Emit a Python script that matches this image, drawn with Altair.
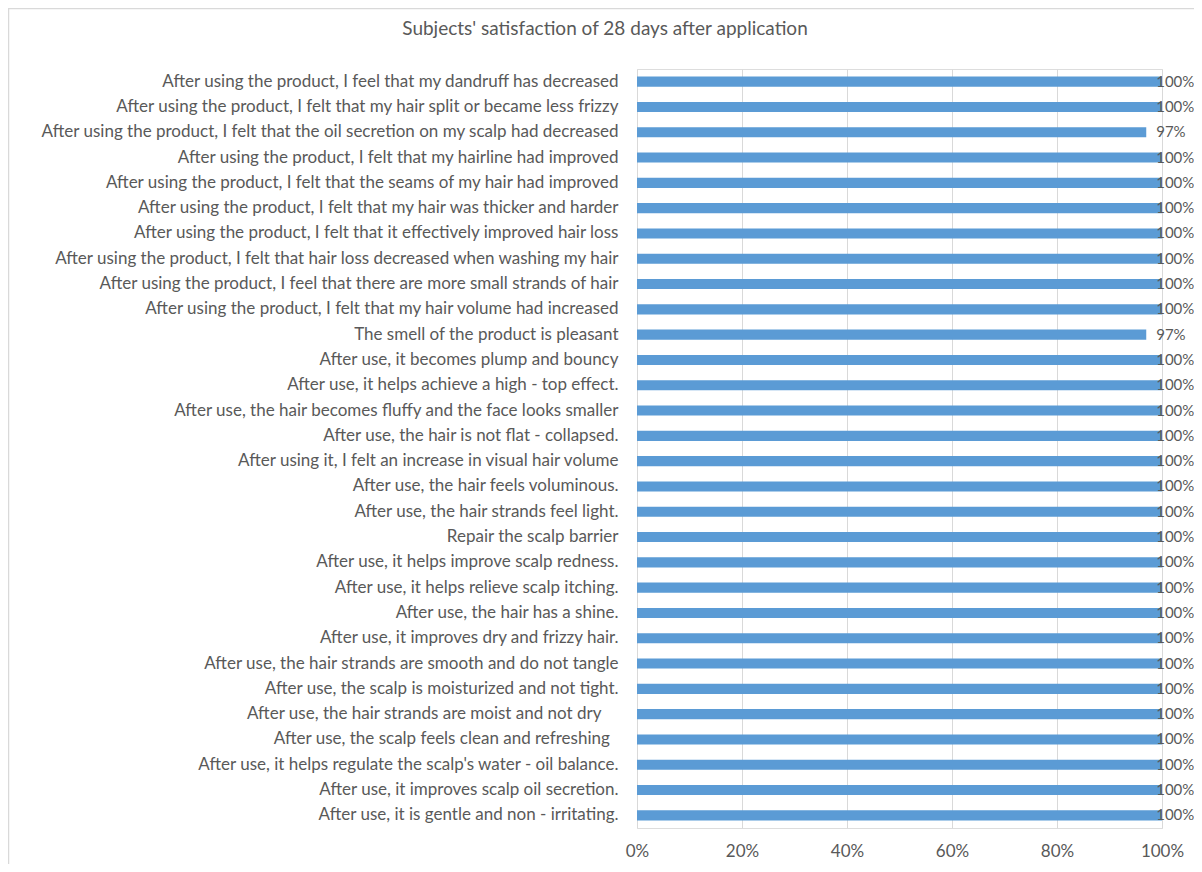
import altair as alt
import pandas as pd

title_text = "Subjects' satisfaction of 28 days after application"

categories = [
    "After using the product, I feel that my dandruff has decreased",
    "After using the product, I felt that my hair split or became less frizzy",
    "After using the product, I felt that the oil secretion on my scalp had decreased",
    "After using the product, I felt that my hairline had improved",
    "After using the product, I felt that the seams of my hair had improved",
    "After using the product, I felt that my hair was thicker and harder",
    "After using the product, I felt that it effectively improved hair loss",
    "After using the product, I felt that hair loss decreased when washing my hair",
    "After using the product, I feel that there are more small strands of hair",
    "After using the product, I felt that my hair volume had increased",
    "The smell of the product is pleasant",
    "After use, it becomes plump and bouncy",
    "After use, it helps achieve a high - top effect.",
    "After use, the hair becomes fluffy and the face looks smaller",
    "After use, the hair is not flat - collapsed.",
    "After using it, I felt an increase in visual hair volume",
    "After use, the hair feels voluminous.",
    "After use, the hair strands feel light.",
    "Repair the scalp barrier",
    "After use, it helps improve scalp redness.",
    "After use, it helps relieve scalp itching.",
    "After use, the hair has a shine.",
    "After use, it improves dry and frizzy hair.",
    "After use, the hair strands are smooth and do not tangle",
    "After use, the scalp is moisturized and not tight.",
    "After use, the hair strands are moist and not dry\u00a0\u00a0\u00a0\u00a0\u2060",
    "After use, the scalp feels clean and refreshing\u00a0\u00a0\u2060",
    "After use, it helps regulate the scalp's water - oil balance.",
    "After use, it improves scalp oil secretion.",
    "After use, it is gentle and non - irritating.",
]

values = [1.00, 1.00, 0.97, 1.00, 1.00, 1.00, 1.00, 1.00, 1.00, 1.00,
          0.97, 1.00, 1.00, 1.00, 1.00, 1.00, 1.00, 1.00, 1.00, 1.00,
          1.00, 1.00, 1.00, 1.00, 1.00, 1.00, 1.00, 1.00, 1.00, 1.00]

tick_values = [0, 0.2, 0.4, 0.6, 0.8, 1.0]

df = pd.DataFrame({"item": categories, "value": values})

W, H = 525, 759
FONT = "Lato"
GREY = "#595959"
SVG_W, SVG_H = 1186, 856

frame = alt.Chart(pd.DataFrame({"k": [0]})).mark_rect(
    fill=None, stroke="#D9D9D9", strokeWidth=1.5
).encode(
    x=alt.value(-628.5), x2=alt.value(W + 800),
    y=alt.value(-60.5), y2=alt.value(H + 800),
)

title = alt.Chart(pd.DataFrame({"t": [title_text]})).mark_text(
    align="center", baseline="middle", font=FONT, fontSize=19, color=GREY
).encode(
    text="t:N", x=alt.value(-32), y=alt.value(-40),
)

base = alt.Chart(df)

y_enc = alt.Y(
    "item:N", sort=categories,
    scale=alt.Scale(paddingInner=0.6, paddingOuter=0.3),
    axis=alt.Axis(title=None, labelLimit=0, labelPadding=19, labelFont=FONT,
                  labelFontSize=17, labelColor=GREY, ticks=False, domain=False),
)

bars = base.mark_bar(color="#5B9BD5").encode(
    y=y_enc,
    x=alt.X("value:Q", scale=alt.Scale(domain=[0, 1]),
            axis=alt.Axis(values=tick_values, format=".0%", grid=True,
                          gridColor="#D9D9D9", gridWidth=1, domain=False,
                          ticks=False, labelPadding=15, labelFont=FONT,
                          labelFontSize=17, labelColor=GREY, title=None,
                          labelFlush=False)),
)

labels = base.transform_calculate(
    lx="min(datum.value + 0.0215, 0.989)"
).mark_text(align="left", baseline="middle", font=FONT, fontSize=15,
            color=GREY).encode(
    y=alt.Y("item:N", sort=categories),
    x=alt.X("lx:Q"),
    text=alt.Text("value:Q", format=".0%"),
)

chart = alt.layer(frame, title, bars, labels).properties(
    width=W, height=H,
    autosize=alt.AutoSizeParams(type="none"),
    padding={"left": 629, "top": 61, "right": SVG_W - 629 - W,
             "bottom": SVG_H - 61 - H},
).configure_view(stroke=None).configure(background="white")

chart.save("out.html", embed_options={"renderer": "svg", "actions": False})
